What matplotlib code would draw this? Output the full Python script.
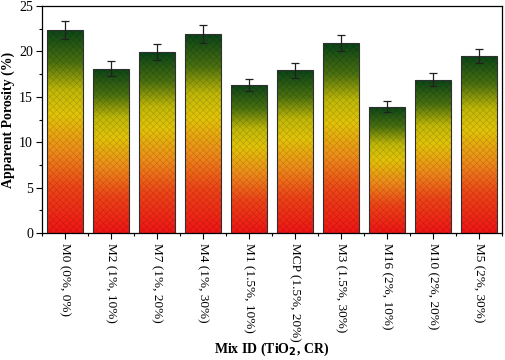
import numpy as np
import matplotlib
matplotlib.use("Agg")
import matplotlib.pyplot as plt
from matplotlib.colors import LinearSegmentedColormap
from matplotlib.ticker import MultipleLocator, FixedLocator

categories = ["M0 (0%, 0%)", "M2 (1%, 10%)", "M7 (1%, 20%)", "M4 (1%, 30%)",
              "M1 (1.5%, 10%)", "MCP (1.5%, 20%)", "M3 (1.5%, 30%)",
              "M16 (2%, 10%)", "M10 (2%, 20%)", "M5 (2%, 30%)"]
values = [22.4, 18.1, 19.9, 21.9, 16.3, 17.9, 20.9, 13.9, 16.9, 19.5]
errors = [1.0, 0.8, 0.9, 1.0, 0.7, 0.8, 0.9, 0.6, 0.7, 0.8]

plt.rcParams['font.family'] = ['Liberation Serif', 'DejaVu Serif']
plt.rcParams['hatch.linewidth'] = 0.4

fig = plt.figure(figsize=(5.05, 3.6), dpi=100)
ax = fig.add_axes([42/505, 1-233/360, (502-42)/505, (233-6)/360])

cmap = LinearSegmentedColormap.from_list("rg", [
    (0.0, '#f01515'), (0.22, '#ee4418'), (0.4, '#ee8c1a'),
    (0.58, '#e2c408'), (0.7, '#c0b808'), (0.84, '#4a7010'), (1.0, '#0a4418')])

x = np.arange(len(categories))
w = 0.78
grad = np.linspace(0, 1, 256).reshape(-1, 1)
bars = ax.bar(x, values, width=w, facecolor='none', edgecolor='#303030',
              linewidth=0.8, zorder=3)
for b, v in zip(bars, values):
    x0 = b.get_x()
    im = ax.imshow(grad, extent=[x0, x0 + w, 0, v], origin='lower',
                   aspect='auto', cmap=cmap, zorder=2, interpolation='bilinear')
    im.set_clip_path(b)
    ax.bar(x0 + w/2, v, width=w, facecolor='none',
           edgecolor=(0, 0, 0, 0.18), hatch='xxxxx', linewidth=0, zorder=2.5)

ax.errorbar(x, values, yerr=errors, fmt='none', ecolor='#202020',
            elinewidth=0.9, capsize=3, capthick=0.9, zorder=4)

ax.set_xlim(-0.5, len(categories) - 0.5)
ax.set_ylim(0, 25)
ax.yaxis.set_major_locator(MultipleLocator(5))
ax.yaxis.set_minor_locator(MultipleLocator(2.5))
ax.set_xticks(x)
ax.set_xticklabels(categories, rotation=270, fontsize=9.5)
ax.xaxis.set_minor_locator(FixedLocator(np.arange(-0.5, len(categories), 1.0)))
ax.tick_params(axis='both', which='major', direction='out', length=4.5, width=0.8,
               labelsize=10, top=False, right=False, pad=2)
ax.tick_params(axis='x', which='major', labelsize=9.5, pad=3)
ax.tick_params(axis='both', which='minor', direction='out', length=2.2, width=0.8)
for s in ax.spines.values():
    s.set_linewidth(0.9)

ax.set_ylabel("Apparent Porosity (%)", fontsize=10, fontweight='bold')
ax.yaxis.set_label_coords(-0.058, 0.5)
fig.text((42+502)/2/505, 1-349/360, "Mix ID (TiO$_\\mathbf{2}$, CR)", ha='center',
         va='center', fontsize=10, fontweight='bold')

fig.savefig("out.png", dpi=100)
